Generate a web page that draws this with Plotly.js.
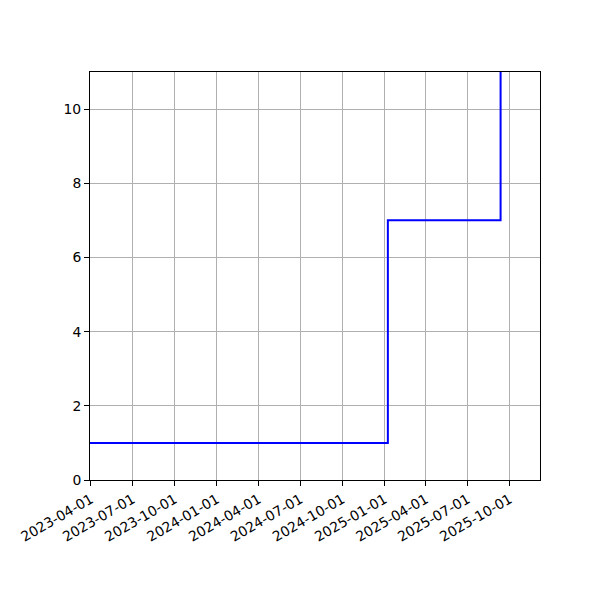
<!DOCTYPE html>
<html>
<head>
<meta charset="utf-8">
<script src="https://cdn.plot.ly/plotly-3.0.1.min.js"></script>
<style>
  body { margin: 0; }
  #chart { width: 600px; height: 600px; }
</style>
</head>
<body>
<div id="chart"></div>
<script>
// step dates and the value that holds from each date on
const dates = ["2023-03-30", "2025-01-08", "2025-09-11"];
const counts = [1, 7, 12];

const trace = {
  x: dates,
  y: counts,
  mode: "lines",
  line: { shape: "hv", color: "#0000ff", width: 2 },
  hoverinfo: "x+y",
};

const axisStyle = {
  showline: true,
  linecolor: "black",
  linewidth: 1,
  mirror: true,
  ticks: "outside",
  ticklen: 5,
  tickcolor: "black",
  showgrid: true,
  gridcolor: "#b0b0b0",
  gridwidth: 1,
  zeroline: false,
  tickfont: { family: "DejaVu Sans", size: 13.9, color: "black" },
};

const layout = {
  width: 600,
  height: 600,
  margin: { l: 90, r: 60, t: 72, b: 120 },
  paper_bgcolor: "white",
  plot_bgcolor: "white",
  showlegend: false,
  xaxis: Object.assign({}, axisStyle, {
    type: "date",
    range: ["2023-03-30", "2025-12-06"],
    tick0: "2023-04-01",
    dtick: "M3",
    tickformat: "%Y-%m-%d",
    tickangle: -30,
  }),
  yaxis: Object.assign({}, axisStyle, {
    range: [0, 11],
    dtick: 2,
    tick0: 0,
  }),
};

Plotly.newPlot("chart", [trace], layout, { displayModeBar: false, staticPlot: true });
</script>
</body>
</html>
